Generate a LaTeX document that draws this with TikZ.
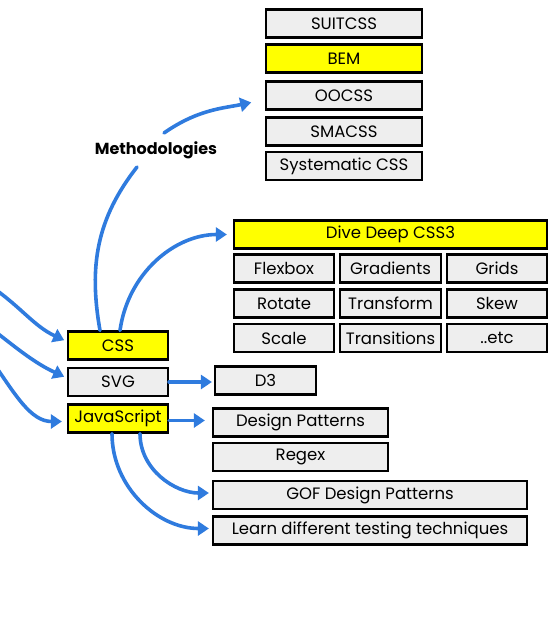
\documentclass[tikz,border=0pt]{standalone}
\usepackage{fontspec}
\setmainfont{Poppins}
\usetikzlibrary{arrows.meta}
\definecolor{boxgray}{HTML}{EEEEEE}
\definecolor{hiyellow}{HTML}{FFFF00}
\definecolor{linkblue}{HTML}{2F7BDE}

\begin{document}
\begin{tikzpicture}[x=1pt, y=1pt,
  box/.style={draw, line width=2.2pt, fill=boxgray, minimum height=28pt, inner sep=0pt, font=\fontsize{16.5}{18}\selectfont},
  hibox/.style={box, fill=hiyellow},
  link/.style={draw=linkblue, line width=3.6pt, line cap=round, -{Triangle[length=11pt, width=14pt]}},
  plainlink/.style={draw=linkblue, line width=3.6pt, line cap=round}]
  \useasboundingbox (0,0) rectangle (548,-637);
  % Methodologies column
  \node[box, minimum width=156pt] (suitcss) at (344,-23.5) {SUITCSS};
  \node[hibox, minimum width=156pt] (bem) at (344,-58.5) {BEM};
  \node[box, minimum width=156pt] (oocss) at (344,-95.5) {OOCSS};
  \node[box, minimum width=156pt] (smacss) at (344,-131.5) {SMACSS};
  \node[box, minimum width=156pt] (syscss) at (344,-166) {Systematic CSS};
  \node[font=\bfseries\fontsize{16}{18}\selectfont] (meth) at (156,-150) {Methodologies};
  % CSS3 grid
  \node[hibox, minimum width=313pt] (dive) at (390.5,-234.5) {Dive Deep CSS3};
  \node[box, minimum width=100pt] (flexbox) at (284,-268.5) {Flexbox};
  \node[box, minimum width=101pt] (gradients) at (390.5,-268.5) {Gradients};
  \node[box, minimum width=100pt] (grids) at (497,-268.5) {Grids};
  \node[box, minimum width=100pt] (rotate) at (284,-303.5) {Rotate};
  \node[box, minimum width=101pt] (transform) at (390.5,-303.5) {Transform};
  \node[box, minimum width=100pt] (skew) at (497,-303.5) {Skew};
  \node[box, minimum width=100pt] (scale) at (284,-338) {Scale};
  \node[box, minimum width=101pt] (transitions) at (390.5,-338) {Transitions};
  \node[box, minimum width=100pt] (etc) at (497,-338) {..etc};
  % Main topics
  \node[hibox, minimum width=100pt] (css) at (118,-345.5) {CSS};
  \node[box, minimum width=100pt] (svg) at (118,-382) {SVG};
  \node[hibox, minimum width=100pt] (js) at (118,-418.5) {JavaScript};
  \node[box, minimum width=101pt] (d3) at (265.5,-380.5) {D3};
  % JavaScript topics
  \node[box, minimum width=175pt] (dp) at (300.5,-422.5) {Design Patterns};
  \node[box, minimum width=175pt] (regex) at (300.5,-457) {Regex};
  \node[box, minimum width=314pt] (gof) at (370,-495) {GOF Design Patterns};
  \node[box, minimum width=314pt] (learn) at (370,-530.5) {Learn different testing techniques};
  % Incoming from the left
  \coordinate (src1) at (-8,-287);
  \coordinate (src2) at (-8,-329);
  \coordinate (src3) at (-6,-364);
  \draw[link, shorten >=3pt] (src1) to[out=-35,in=155] ([yshift=4pt]css.west);
  \draw[link, shorten >=3pt] (src2) to[out=-38,in=155] ([yshift=4pt]svg.west);
  \draw[link, shorten >=5pt] (src3) to[out=-55,in=180] ([yshift=-3pt]js.west);
  % Connectors
  \draw[plainlink] ([xshift=-18pt]css.north) to[out=100,in=232] ([shift={(-19pt,-17pt)}]meth.center);
  \draw[link, shorten >=14pt] ([shift={(8pt,17pt)}]meth.center) to[out=35,in=192] ([yshift=-4pt]oocss.west);
  \draw[link, shorten >=6pt] ([xshift=2pt]css.north) to[out=82,in=180] (dive.west);
  \draw[link, shorten >=2pt] (svg.east) -- (svg.east -| d3.west);
  \draw[link, shorten >=7pt] ([yshift=-2pt]js.east) -- ([yshift=-2pt]js.east -| dp.west);
  \draw[link, shorten >=3pt] ([xshift=22pt]js.south) to[out=-90,in=180] ([yshift=2pt]gof.west);
  \draw[link, shorten >=3pt] ([xshift=-6pt]js.south) to[out=-90,in=180] ([yshift=2pt]learn.west);
\end{tikzpicture}
\end{document}
